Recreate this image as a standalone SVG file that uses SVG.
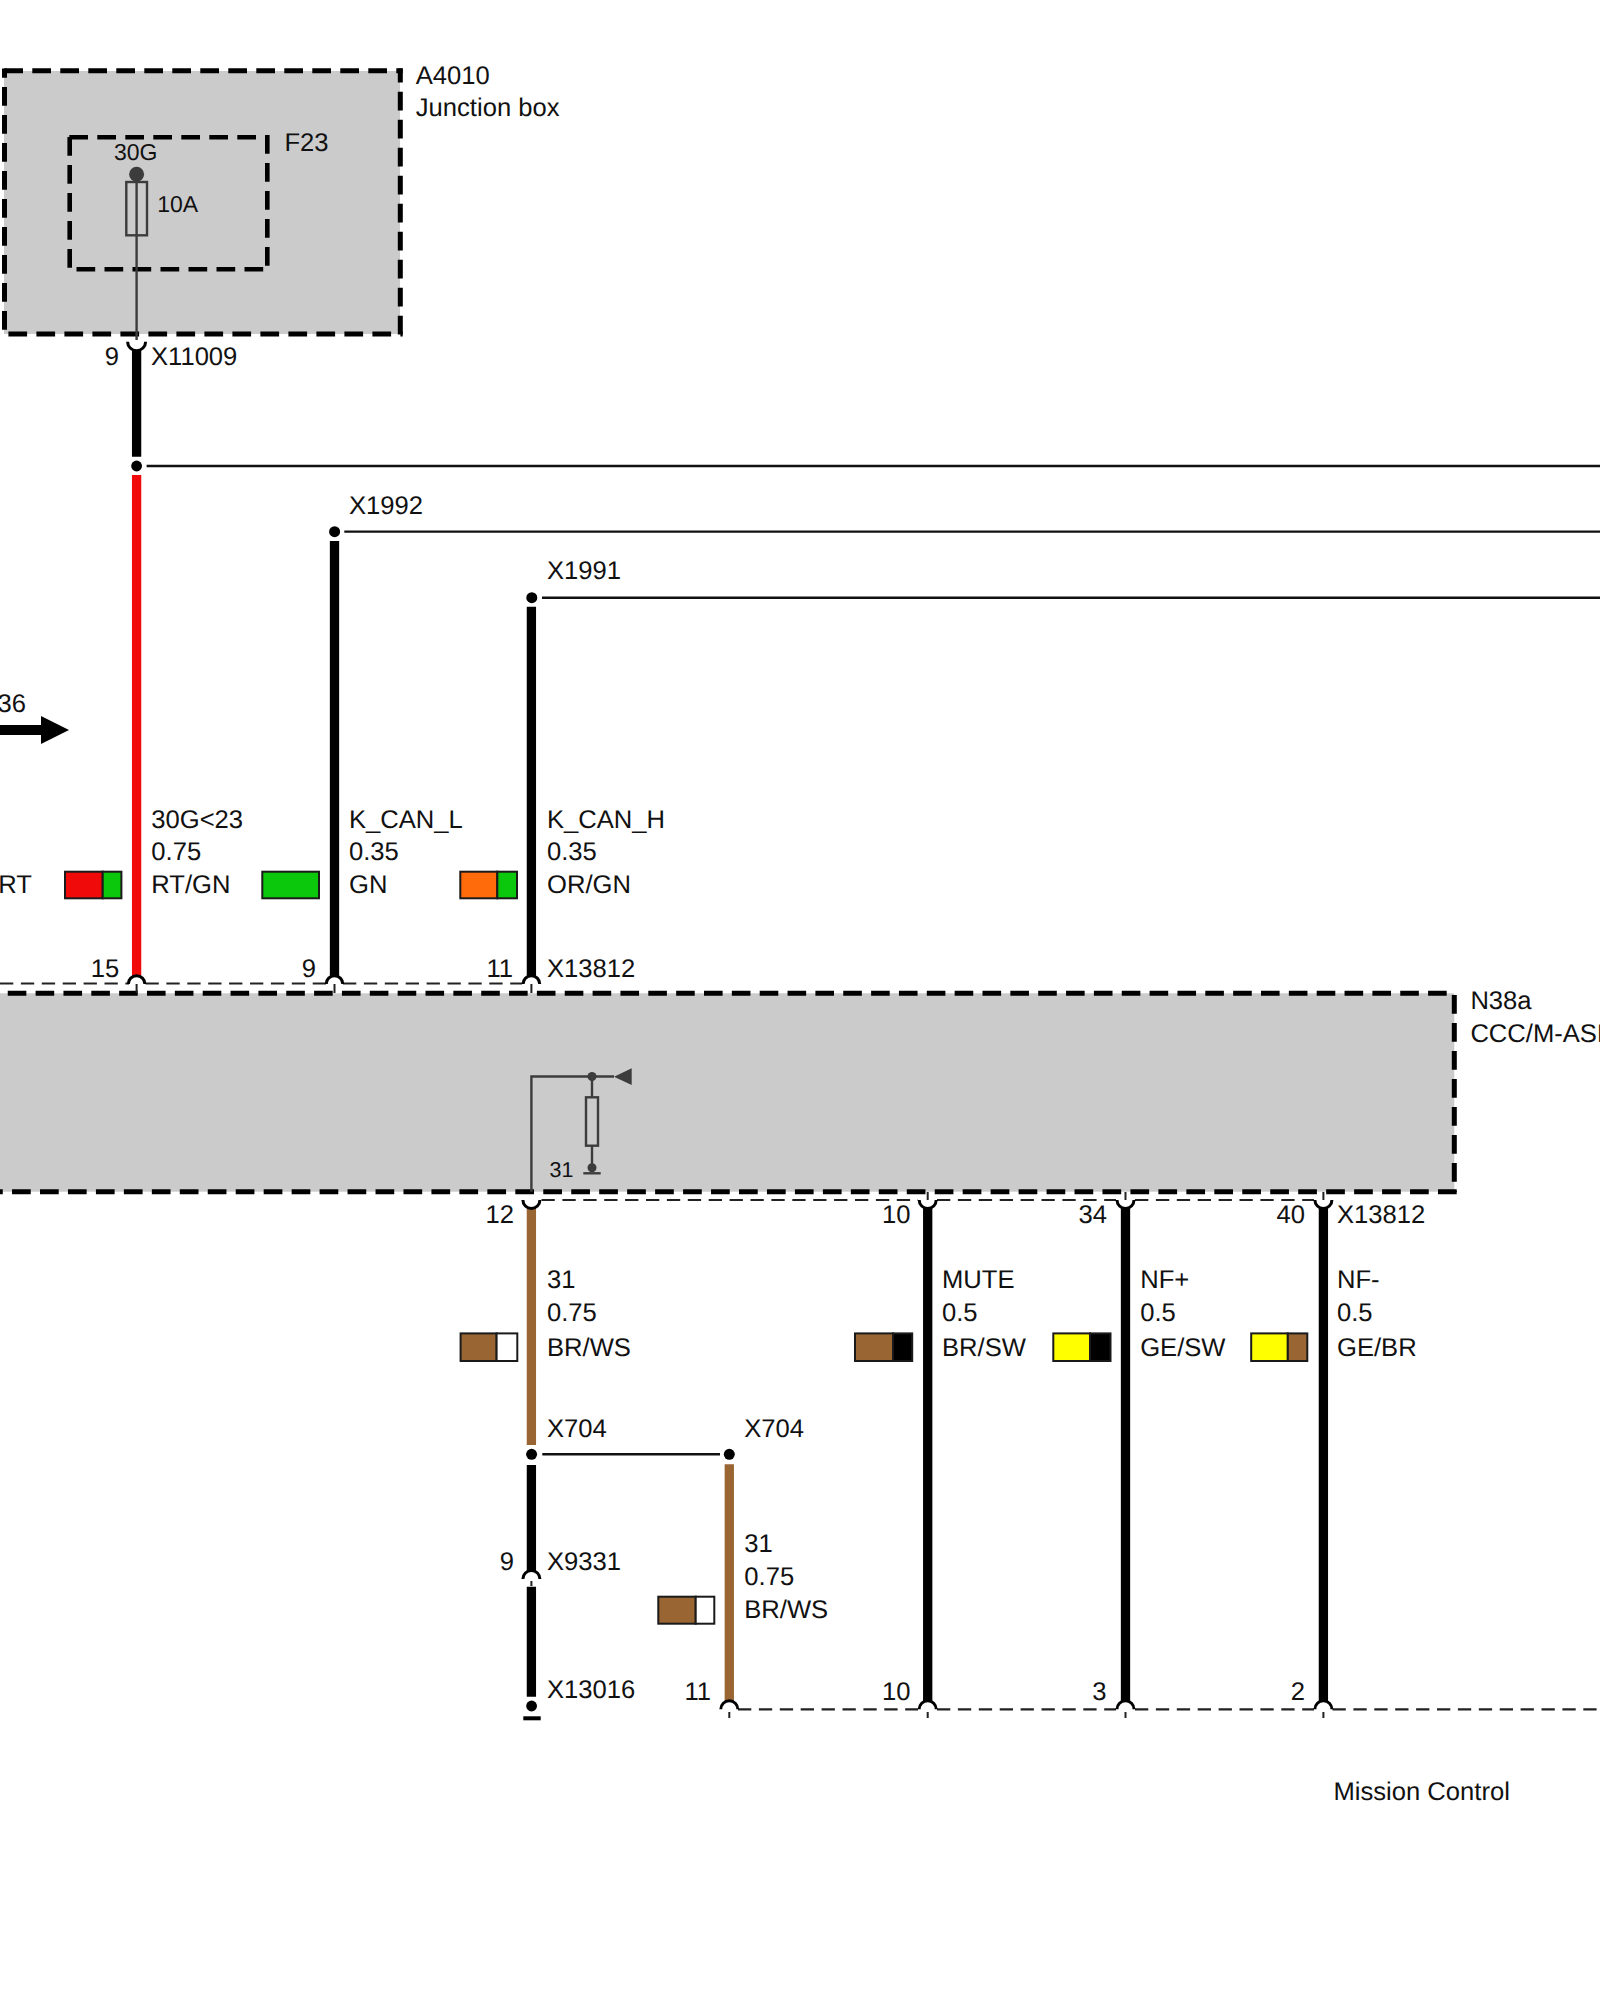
<svg xmlns="http://www.w3.org/2000/svg" width="1600" height="2000" viewBox="0 0 1600 2000">
<style>
text{font-family:"Liberation Sans",Arial,sans-serif;font-size:25.6px;fill:#111;text-rendering:geometricPrecision}
.e{text-anchor:end}
.s{font-size:23px}
.box{fill:#cbcbcb;stroke:none}
.bd{fill:none;stroke:#000;stroke-width:5;stroke-dasharray:18.7 9.3}
.bf{fill:none;stroke:#000;stroke-width:4.6;stroke-dasharray:18.7 9.3}
.in{fill:none;stroke:#3c3c3c;stroke-width:2.4}
.idot{fill:#3c3c3c}
.w{fill:none;stroke-width:9.3}
.k{stroke:#000}.r{stroke:#f00a0a}.b{stroke:#996633}
.t{fill:none;stroke:#111;stroke-width:2.4}
.d{fill:none;stroke:#222;stroke-width:2.2;stroke-dasharray:13.3 7.6}
.a{fill:none;stroke:#000;stroke-width:3}
.tick{stroke:#222;stroke-width:2;fill:none}
.sw{stroke:#1a1a1a;stroke-width:2}
</style>
<rect width="1600" height="2000" fill="#fff"/>
<g id="A4010">
<rect class="box" x="4" y="71" width="396" height="263"/>
<path class="bd" d="M4.300 70.700H402.700"/>
<path class="bd" d="M8.400 334H402.700"/>
<path class="bd" d="M4.500 68.500V330" stroke-dashoffset="9.500"/>
<path class="bd" d="M400.300 68.500V336" stroke-dashoffset="4.800"/>
<text x="415.800" y="83.500">A4010</text>
<text x="415.800" y="115.700">Junction box</text>
</g>
<g id="F23">
<path class="bf" d="M69.300 137.300H262"/>
<path class="bf" d="M76.500 269.300H265"/>
<path class="bf" d="M69.700 137V268"/>
<path class="bf" d="M267.300 135V271"/>
<text x="284.400" y="151">F23</text>
<text class="s" x="114" y="160">30G</text>
<text class="s" x="157.200" y="212.300">10A</text>
<circle class="idot" cx="136.600" cy="174.300" r="7.500"/>
<rect class="in" x="126.300" y="182" width="20.700" height="53.300"/>
<path class="in" d="M136.600 174V340"/>
</g>
<g id="N38a">
<rect class="box" x="-10" y="993.300" width="1464.300" height="198.400"/>
<path class="bd" d="M1446.700 993.300H-10" style="stroke-dasharray:18.600 9.250"/>
<path class="bd" d="M1454.300 995V1192"/>
<path class="bd" d="M1456.700 1191.700H-10" style="stroke-dasharray:18.700 9.260"/>
<text x="1470.400" y="1009">N38a</text>
<text x="1470.400" y="1041.700">CCC/M-ASK</text>
<path class="in" d="M531.400 1191.700V1076.500H614"/>
<polygon class="idot" points="614,1076.700 631.700,1068.300 631.700,1085"/>
<circle class="idot" cx="592" cy="1076.500" r="4.500"/>
<path class="in" d="M592 1076.500V1097.300M592 1145.700V1167"/>
<rect class="in" x="586" y="1097.300" width="12" height="48.400"/>
<circle class="idot" cx="592" cy="1167.700" r="4.500"/>
<path class="in" d="M583.300 1173.300H600.700"/>
<text x="549.600" y="1176.700" style="font-size:21.500px">31</text>
</g>
<g id="connectors">
<path class="w k" d="M136.600 351V456.700"/>
<path class="w r" d="M136.600 475V976"/>
<path class="w k" d="M334.500 541V976"/>
<path class="w k" d="M531.400 606.700V976"/>
<path class="w b" d="M531.400 1207V1445"/>
<path class="w k" d="M531.400 1465V1571M531.400 1586.700V1696.700"/>
<path class="w b" d="M729.300 1464.300V1702"/>
<path class="w k" d="M927.700 1207V1702M1125.500 1207V1702M1323.400 1207V1702"/>
<path class="t" d="M146.600 466H1600M344.300 531.600H1600M542 597.700H1600M542.300 1454.300H720"/>
<g fill="#000">
<circle cx="136.600" cy="466" r="5.400"/>
<circle cx="334.600" cy="531.700" r="5.500"/>
<circle cx="531.800" cy="597.700" r="5.500"/>
<circle cx="531.600" cy="1454.300" r="5.500"/>
<circle cx="729.300" cy="1454.300" r="5.500"/>
<circle cx="531.600" cy="1706" r="5.400"/>
</g>
<rect x="523.300" y="1716.300" width="17.400" height="4"/>
<path class="d" d="M0 983.500H129M145.500 983.500H326M343 983.500H522"/>
<path class="d" d="M541.500 1200H918M937 1200H1116M1135 1200H1314"/>
<path class="d" d="M738 1709.300H918M937 1709.300H1116M1135 1709.300H1314M1332.500 1709.300H1600"/>
<path class="a" d="M128.300 984A8.300 8.300 0 0 1 144.900 984M326.200 984A8.300 8.300 0 0 1 342.800 984M523.100 984A8.300 8.300 0 0 1 539.700 984"/>
<path class="a" d="M127.600 341.700A9 9 0 0 0 145.600 341.700"/>
<path class="a" d="M522.900 1200A8.500 8.500 0 0 0 539.900 1200M919.200 1200A8.500 8.500 0 0 0 936.200 1200M1117 1200A8.500 8.500 0 0 0 1134 1200M1314.900 1200A8.500 8.500 0 0 0 1331.900 1200"/>
<path class="a" d="M522.900 1579A8.500 8.500 0 0 1 539.900 1579"/>
<path class="a" d="M720.800 1709.300A8.500 8.500 0 0 1 737.800 1709.300M919.200 1709.300A8.500 8.500 0 0 1 936.200 1709.300M1117 1709.300A8.500 8.500 0 0 1 1134 1709.300M1314.900 1709.300A8.500 8.500 0 0 1 1331.900 1709.300"/>
<path class="tick" d="M136.600 984V993M334.500 984V993M531.400 984V993M927.700 1192V1200M1125.500 1192V1200M1323.400 1192V1200M531.400 1581V1586M729.300 1712V1718M927.700 1712V1718M1125.500 1712V1718M1323.400 1712V1718"/>
</g>
<g id="arrow">
<path d="M0 725H41V716L69 730 41 744V735H0Z" fill="#000"/>
<text x="-2.500" y="711.500">36</text>
</g>
<g id="wire-30G">
<text class="e" x="119" y="365">9</text>
<text x="151" y="365">X11009</text>
<text x="151.300" y="827.700">30G&lt;23</text>
<text x="151.300" y="860">0.75</text>
<text x="151.300" y="892.700">RT/GN</text>
<text x="-1.800" y="892.700">RT</text>
<rect class="sw" x="65" y="871.700" width="37.700" height="26.600" fill="#f00a0a"/>
<rect class="sw" x="102.700" y="871.700" width="18.700" height="26.600" fill="#0cc80c"/>
<text class="e" x="119.300" y="976.700">15</text>
</g>
<g id="wire-K-CAN-L">
<text x="349" y="514">X1992</text>
<text x="349" y="827.700">K_CAN_L</text>
<text x="349" y="860">0.35</text>
<text x="349" y="892.700">GN</text>
<rect class="sw" x="262.300" y="871.700" width="56.700" height="26.600" fill="#0cc80c"/>
<text class="e" x="316" y="976.700">9</text>
</g>
<g id="wire-K-CAN-H">
<text x="547" y="579">X1991</text>
<text x="547" y="827.700">K_CAN_H</text>
<text x="547" y="860">0.35</text>
<text x="547" y="892.700">OR/GN</text>
<rect class="sw" x="460.300" y="871.700" width="37" height="26.600" fill="#ff6a0a"/>
<rect class="sw" x="497.300" y="871.700" width="19.700" height="26.600" fill="#0cc80c"/>
<text class="e" x="513" y="976.700">11</text>
<text x="547" y="976.700">X13812</text>
</g>
<g id="wire-31">
<text class="e" x="514" y="1222.700">12</text>
<text x="547" y="1288.300">31</text>
<text x="547" y="1321">0.75</text>
<text x="547" y="1356">BR/WS</text>
<rect class="sw" x="460.600" y="1333.400" width="36" height="27.600" fill="#996633"/>
<rect class="sw" x="496.600" y="1333.400" width="20.700" height="27.600" fill="#fff"/>
<text x="547" y="1436.700">X704</text>
<text class="e" x="514" y="1569.800">9</text>
<text x="547" y="1569.800">X9331</text>
<text x="547" y="1697.700">X13016</text>
</g>
<g id="wire-31b">
<text x="744.300" y="1436.700">X704</text>
<text x="744.300" y="1552.300">31</text>
<text x="744.300" y="1585">0.75</text>
<text x="744.300" y="1618.300">BR/WS</text>
<rect class="sw" x="658.300" y="1596.700" width="37.400" height="27" fill="#996633"/>
<rect class="sw" x="695.700" y="1596.700" width="18.600" height="27" fill="#fff"/>
<text class="e" x="711" y="1700">11</text>
</g>
<g id="wire-MUTE">
<text class="e" x="910.500" y="1222.700">10</text>
<text x="942" y="1288.300">MUTE</text>
<text x="942" y="1321">0.5</text>
<text x="942" y="1356">BR/SW</text>
<rect class="sw" x="855" y="1333.400" width="38" height="27.600" fill="#996633"/>
<rect class="sw" x="893" y="1333.400" width="19.200" height="27.600" fill="#000"/>
<text class="e" x="910.500" y="1700">10</text>
</g>
<g id="wire-NFP">
<text class="e" x="1107" y="1222.700">34</text>
<text x="1140.200" y="1288.300">NF+</text>
<text x="1140.200" y="1321">0.5</text>
<text x="1140.200" y="1356">GE/SW</text>
<rect class="sw" x="1053.300" y="1333.400" width="36.700" height="27.600" fill="#ffff00"/>
<rect class="sw" x="1090" y="1333.400" width="20.500" height="27.600" fill="#000"/>
<text class="e" x="1106.400" y="1700">3</text>
</g>
<g id="wire-NFM">
<text class="e" x="1305" y="1222.700">40</text>
<text x="1337" y="1222.700">X13812</text>
<text x="1337" y="1288.300">NF-</text>
<text x="1337" y="1321">0.5</text>
<text x="1337" y="1356">GE/BR</text>
<rect class="sw" x="1251.200" y="1333.400" width="36.600" height="27.600" fill="#ffff00"/>
<rect class="sw" x="1287.800" y="1333.400" width="19.500" height="27.600" fill="#996633"/>
<text class="e" x="1305" y="1700">2</text>
</g>
<g id="mission-control">
<text x="1333.500" y="1800">Mission Control</text>
</g>
</svg>
